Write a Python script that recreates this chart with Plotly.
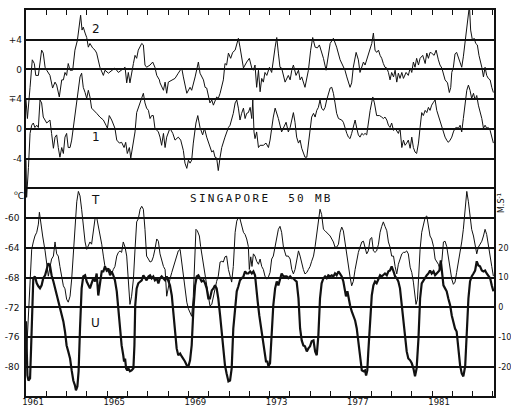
import plotly.graph_objects as go

# ---------------- data ----------------
# Series "2" (upper trace, upper panel)
s2_year = [1961.00,1961.07,1961.20,1961.31,1961.41,1961.48,1961.61,1961.69,1961.77,1961.85,1961.94,1962.02,1962.18,1962.31,1962.43,1962.51,1962.64,1962.76,1962.84,1962.92,1963.00,1963.08,1963.17,1963.30,1963.41,1963.53,1963.63,1963.69,1963.76,1963.82,1963.91,1963.99,1964.07,1964.15,1964.28,1964.40,1964.48,1964.56,1964.64,1964.81,1964.89,1965.06,1965.22,1965.38,1965.55,1965.71,1965.88,1965.96,1966.04,1966.12,1966.20,1966.29,1966.37,1966.45,1966.53,1966.70,1966.78,1966.86,1966.94,1967.11,1967.24,1967.35,1967.44,1967.57,
           1967.60,1967.77,1967.85,1967.93,1968.01,1968.18,1968.34,1968.50,1968.67,1968.75,1968.92,1969.08,1969.16,1969.33,1969.49,1969.57,1969.74,1969.82,1969.90,1970.06,1970.15,1970.23,1970.39,1970.47,1970.56,1970.72,1970.80,1970.88,1970.97,1971.08,1971.18,1971.30,1971.46,1971.54,1971.71,1971.87,1972.00,1972.12,1972.20,1972.28,1972.36,1972.45,1972.53,1972.61,1972.69,1972.77,1972.86,1972.99,1973.10,1973.27,1973.35,1973.43,1973.51,1973.59,1973.76,1973.92,1974.01,1974.09,1974.17,1974.30,1974.42,1974.50,1974.58,1974.74,1974.91,1975.02,1975.12,1975.24,1975.35,1975.45,1975.65,1975.78,1975.89,
           1975.98,1976.14,1976.30,1976.47,1976.63,1976.71,1976.80,1976.96,1977.04,1977.12,1977.26,1977.37,1977.45,1977.54,1977.62,1977.70,1977.86,1978.03,1978.11,1978.19,1978.27,1978.36,1978.44,1978.52,1978.60,1978.68,1978.77,1978.85,1978.93,1979.01,1979.10,1979.18,1979.26,1979.34,1979.42,1979.51,1979.59,1979.72,1979.83,1979.92,1980.00,1980.08,1980.16,1980.24,1980.33,1980.41,1980.54,1980.66,1980.74,1980.82,1980.90,1980.98,1981.10,1981.20,1981.31,1981.39,1981.48,1981.56,1981.64,1981.76,1981.85,1981.92,1981.97,1982.05,1982.13,1982.21,1982.30,1982.38,1982.46,1982.54,1982.63,1982.71,1982.79,1982.84,1982.90,1982.99,1983.07,1983.15,1983.23,1983.31,1983.45,1983.53,1983.61,1983.69,1983.77,1983.86,1983.94,1984.02]
s2_val = [-4.1,-6.6,-2.4,1.3,0.8,-0.8,-0.8,0.8,2.6,2.2,0.3,-0.1,-0.8,-2.5,-1.7,-2.1,-3.7,-1.4,-1.4,-0.4,-0.8,0.8,-0.1,-0.1,2.6,3.9,5.7,7.3,5.3,5.7,4.9,4.3,3.0,3.5,2.9,2.6,2.2,1.0,0.3,-0.8,-0.1,-0.5,-0.1,0.2,-0.4,-0.1,0.3,-1.8,-0.4,-1.8,-0.4,0.8,1.9,1.5,2.6,3.5,3.3,0.6,0.3,0.6,1.0,0.3,-0.8,-1.4,
          -1.8,-2.8,-1.7,-3.2,-1.7,-1.4,-1.2,-0.5,0.2,-1.0,-3.2,-2.4,-2.8,-1.0,1.0,-0.5,-1.4,-2.4,-2.5,-4.5,-4.1,-4.8,-3.7,-3.9,-3.2,-1.4,0.8,0.6,2.2,1.5,2.3,2.6,4.2,3.0,0.2,1.0,1.5,0.2,-0.1,0.6,-2.4,-0.1,-3.0,-1.2,-1.7,-0.4,-0.8,0.3,-0.4,3.0,4.3,2.2,0.3,0.2,-1.7,-0.8,-1.4,-0.1,0.6,-0.8,-0.1,-1.4,-1.0,-2.4,-0.1,2.6,4.3,3.0,2.9,3.3,1.5,-0.1,2.2,
          3.5,4.2,3.0,1.3,0.2,-0.1,-1.0,-2.4,-1.8,0.3,2.3,1.3,-0.4,0.3,1.0,0.6,1.9,3.5,4.9,2.6,2.3,2.6,1.9,1.5,0.8,0.3,0.2,-0.4,-1.4,-0.4,-1.0,-0.1,-1.7,-0.5,-1.2,-0.4,-1.2,-0.4,-0.8,0.2,-0.4,1.0,0.3,1.5,0.6,1.5,1.9,0.8,2.2,1.5,2.3,2.2,1.9,2.6,1.3,0.6,0.2,-0.8,-1.4,-1.8,-3.1,-2.4,-0.4,0.3,2.1,2.3,1.5,1.0,0.3,1.7,3.7,5.7,7.6,8.6,5.3,3.9,4.2,3.5,3.3,1.9,0.3,-1.0,0.3,-0.8,-1.2,-1.4,-2.4,-3.1]

# Series "1" (lower trace, upper panel)
s1_year = [1961.00,1961.03,1961.12,1961.20,1961.28,1961.36,1961.44,1961.53,1961.61,1961.69,1961.77,1961.85,1962.02,1962.18,1962.26,1962.35,1962.43,1962.51,1962.59,1962.67,1962.76,1962.84,1962.92,1963.00,1963.08,1963.17,1963.25,1963.33,1963.46,1963.58,1963.66,1963.74,1963.82,1963.91,1963.99,1964.07,1964.15,1964.23,1964.32,1964.48,1964.64,1964.81,1964.94,1965.01,1965.10,1965.22,1965.38,1965.47,1965.60,1965.71,1965.83,1965.91,1965.99,1966.09,1966.16,1966.25,1966.37,1966.45,1966.58,1966.70,1966.78,1966.86,1966.94,1967.03,1967.11,1967.19,1967.27,1967.35,1967.52,
           1967.60,1967.68,1967.77,1967.85,1967.93,1968.01,1968.09,1968.23,1968.34,1968.50,1968.62,1968.75,1968.83,1968.92,1969.00,1969.08,1969.16,1969.24,1969.37,1969.46,1969.57,1969.70,1969.79,1969.90,1970.06,1970.15,1970.23,1970.31,1970.39,1970.47,1970.56,1970.64,1970.80,1970.88,1970.97,1971.05,1971.13,1971.21,1971.30,1971.38,1971.46,1971.54,1971.62,1971.71,1971.79,1971.87,1971.95,1972.04,1972.12,1972.17,1972.23,1972.28,1972.36,1972.45,1972.53,1972.69,1972.82,1972.94,1973.02,1973.10,1973.18,1973.27,1973.35,1973.43,1973.59,1973.68,1973.81,1973.92,1974.01,1974.09,1974.17,1974.25,1974.33,1974.42,1974.50,1974.58,1974.66,1974.74,1974.83,1974.91,1974.99,1975.07,1975.16,1975.24,1975.32,1975.40,1975.48,1975.56,1975.65,1975.73,1975.81,1975.89,
           1975.98,1976.06,1976.14,1976.22,1976.30,1976.39,1976.55,1976.63,1976.71,1976.80,1976.88,1976.96,1977.04,1977.12,1977.21,1977.29,1977.37,1977.45,1977.54,1977.62,1977.70,1977.78,1977.86,1977.95,1978.08,1978.16,1978.27,1978.41,1978.52,1978.60,1978.68,1978.77,1978.85,1978.93,1979.01,1979.10,1979.18,1979.26,1979.34,1979.42,1979.51,1979.59,1979.67,1979.75,1979.83,1979.92,1980.00,1980.08,1980.16,1980.24,1980.33,1980.41,1980.49,1980.57,1980.66,1980.74,1980.82,1980.90,1980.98,1981.07,1981.15,1981.23,1981.31,1981.39,1981.48,1981.56,1981.64,1981.72,1981.80,1981.89,1981.97,1982.05,1982.13,1982.21,1982.30,1982.38,1982.46,1982.54,1982.63,1982.71,1982.79,1982.87,1982.95,1983.04,1983.12,1983.20,1983.28,1983.36,1983.45,1983.53,1983.61,1983.69,1983.77,1983.86,1983.94,1984.02]
s1_val = [-4.2,-9.2,-5.2,-0.6,0.5,0.8,0.2,0.5,0.2,3.9,3.5,1.6,0.8,1.2,-0.6,-2.6,-1.1,-0.8,-2.5,-3.8,-2.5,-3.3,-1.1,-0.6,-2.5,-2.5,-1.5,0.2,2.5,5.2,7.0,7.5,5.6,4.9,4.1,5.2,4.3,2.8,2.5,2.1,1.6,1.2,0.5,0.1,1.8,1.2,0.1,-1.5,-1.9,-1.8,-2.5,-1.8,-3.3,-2.5,-3.9,-2.5,-0.4,2.2,3.2,4.3,4.8,3.5,2.8,2.5,1.4,1.8,1.8,0.1,-0.4,
          -1.1,-2.2,-0.6,-2.5,-1.1,-0.4,0.1,-0.6,-1.5,-1.1,-1.5,-2.9,-4.6,-5.3,-4.2,-4.6,-4.2,-1.9,0.8,1.8,0.2,-0.8,0.1,-1.1,-2.5,-3.1,-2.9,-3.8,-3.9,-5.6,-3.8,-2.5,-1.1,-0.4,0.2,0.5,1.2,2.1,3.5,3.9,2.8,1.2,2.1,2.8,1.4,2.1,2.2,2.9,1.4,3.9,-0.4,-1.3,-0.4,-2.5,-2.2,-2.2,-1.9,-2.5,-1.5,0.2,1.6,2.8,2.1,1.4,-0.4,0.2,0.9,-0.4,0.2,1.2,2.2,0.9,-1.1,-1.9,-1.5,-2.6,-3.1,-3.8,-3.8,-1.9,0.1,1.6,2.1,1.6,2.5,2.9,3.9,2.8,2.5,2.9,3.9,4.8,
          5.5,5.6,4.8,3.5,2.1,1.4,1.2,0.9,0.1,-0.6,-1.1,-1.3,-0.6,0.1,1.2,0.1,-0.8,-1.1,-0.6,-0.8,-0.6,-0.8,0.8,2.5,4.3,3.5,1.8,1.8,1.6,1.4,1.6,1.2,0.5,0.2,0.8,-0.2,0.1,-0.2,-0.6,0.1,-2.5,-1.5,-2.2,-1.9,-1.5,-2.6,-1.1,-2.5,-3.1,-3.3,-1.9,0.2,2.2,1.8,2.5,2.2,2.9,2.5,3.2,3.6,3.9,2.5,1.8,0.8,0.1,-0.6,-1.1,-1.5,-1.8,-1.5,-1.1,-0.4,0.1,0.2,0.1,0.5,-0.4,1.4,3.5,5.2,5.9,5.2,4.1,4.8,3.9,4.5,3.2,2.5,1.4,0.1,0.5,0.1,0.2,-0.2,-1.1,-1.9]

# Temperature T (deg C, thin line, lower panel, left axis)
t_year = [1961.03,1961.20,1961.28,1961.36,1961.44,1961.53,1961.61,1961.66,1961.72,1961.82,1961.94,1962.02,1962.10,1962.18,1962.26,1962.35,1962.43,1962.51,1962.59,1962.67,1962.76,1962.84,1962.92,1963.00,1963.08,1963.17,1963.25,1963.33,1963.41,1963.50,1963.58,1963.66,1963.74,1963.82,1963.91,1963.99,1964.07,1964.15,1964.23,1964.32,1964.40,1964.48,1964.56,1964.64,1964.73,1964.81,1964.89,1964.97,1965.06,1965.14,1965.22,1965.30,1965.38,1965.47,1965.55,1965.63,1965.71,1965.79,1965.88,1965.96,1966.04,1966.12,1966.20,1966.29,1966.37,1966.45,1966.53,1966.62,1966.70,1966.78,1966.86,1966.94,1967.03,1967.11,1967.19,1967.27,1967.35,1967.44,1967.52,
          1967.60,1967.77,1967.85,1967.93,1968.01,1968.09,1968.18,1968.34,1968.50,1968.59,1968.67,1968.75,1968.83,1968.92,1969.00,1969.16,1969.24,1969.29,1969.37,1969.44,1969.54,1969.60,1969.70,1969.77,1969.87,1969.98,1970.06,1970.15,1970.23,1970.31,1970.39,1970.47,1970.56,1970.64,1970.72,1970.80,1970.88,1970.97,1971.05,1971.13,1971.21,1971.30,1971.38,1971.46,1971.54,1971.62,1971.71,1971.79,1971.87,1971.95,1972.00,1972.07,1972.13,1972.20,1972.28,1972.36,1972.45,1972.53,1972.61,1972.69,1972.77,1972.86,1972.94,1973.02,1973.10,1973.18,1973.27,1973.35,1973.43,1973.51,1973.59,1973.68,1973.81,1973.92,1974.01,1974.09,1974.17,1974.25,1974.33,1974.42,1974.50,1974.58,1974.66,1974.74,1974.83,1974.91,1974.99,1975.07,1975.16,1975.24,1975.32,1975.40,1975.48,1975.56,1975.65,1975.73,1975.81,1975.89,
          1975.98,1976.14,1976.22,1976.30,1976.39,1976.47,1976.55,1976.63,1976.71,1976.80,1976.88,1976.96,1977.04,1977.12,1977.21,1977.29,1977.37,1977.45,1977.54,1977.62,1977.70,1977.78,1977.86,1977.95,1978.03,1978.11,1978.19,1978.27,1978.36,1978.44,1978.52,1978.60,1978.68,1978.77,1978.85,1978.93,1979.01,1979.10,1979.18,1979.26,1979.34,1979.42,1979.51,1979.59,1979.67,1979.75,1979.83,1979.92,1980.00,1980.08,1980.16,1980.21,1980.28,1980.33,1980.41,1980.49,1980.57,1980.66,1980.74,1980.82,1980.90,1980.98,1981.07,1981.15,1981.23,1981.31,1981.39,1981.48,1981.56,1981.64,1981.72,1981.80,1981.89,1981.97,1982.05,1982.13,1982.21,1982.30,1982.38,1982.46,1982.54,1982.63,1982.71,1982.79,1982.87,1982.95,1983.04,1983.12,1983.20,1983.28,1983.36,1983.45,1983.53,1983.61,1983.69,1983.77,1983.86,1983.94,1984.02]
t_val = [-78.0,-69.5,-64.2,-63.2,-62.4,-61.9,-60.8,-59.2,-60.5,-62.4,-64.4,-66.5,-67.8,-66.6,-65.5,-65.1,-63.2,-64.8,-65.1,-66.5,-67.8,-69.1,-69.5,-70.9,-71.3,-70.5,-68.2,-65.1,-61.1,-57.8,-56.4,-57.0,-58.8,-61.1,-63.2,-64.2,-63.8,-63.2,-63.5,-61.5,-60.1,-59.9,-61.1,-61.9,-63.5,-65.1,-66.5,-66.9,-67.3,-66.9,-67.5,-66.9,-66.5,-65.1,-64.6,-64.4,-64.6,-63.2,-63.9,-65.1,-68.6,-71.6,-70.5,-68.2,-64.2,-60.5,-60.1,-58.8,-58.4,-58.8,-61.5,-65.1,-65.5,-65.9,-65.8,-65.2,-64.2,-62.8,-63.1,
         -64.8,-66.5,-66.9,-70.5,-69.1,-68.2,-67.3,-65.9,-64.4,-64.2,-65.9,-68.2,-70.0,-71.3,-72.2,-73.2,-70.5,-66.9,-61.5,-61.7,-62.4,-63.8,-65.5,-67.3,-68.6,-70.5,-71.8,-71.6,-70.5,-69.1,-68.5,-67.8,-65.9,-65.8,-65.9,-65.2,-65.1,-66.9,-67.8,-68.6,-66.5,-61.9,-60.4,-59.9,-60.1,-61.1,-61.9,-62.2,-62.8,-63.8,-66.9,-65.2,-66.5,-64.8,-65.1,-65.8,-66.2,-65.5,-66.5,-66.9,-67.8,-68.2,-67.9,-67.3,-65.5,-65.1,-63.9,-62.8,-61.5,-61.1,-61.9,-63.9,-65.1,-65.1,-65.5,-66.9,-67.5,-66.9,-65.8,-64.4,-65.1,-66.2,-66.9,-67.5,-67.3,-66.9,-66.5,-65.8,-65.1,-63.8,-61.9,-60.1,-58.8,-59.5,-61.5,-61.7,-61.9,-62.2,
         -62.4,-63.2,-63.9,-63.9,-63.5,-61.9,-61.2,-61.7,-63.2,-65.5,-66.9,-67.9,-69.1,-68.5,-66.9,-65.5,-64.6,-63.9,-63.2,-63.1,-63.8,-64.8,-64.4,-62.8,-62.6,-64.4,-64.6,-64.4,-63.5,-61.9,-61.1,-60.5,-61.1,-61.7,-63.2,-63.9,-65.1,-65.1,-66.5,-67.5,-66.2,-65.5,-64.8,-64.6,-64.6,-64.4,-64.8,-66.6,-67.3,-68.6,-70.9,-71.6,-70.9,-68.2,-64.2,-61.9,-61.1,-59.9,-59.7,-61.1,-62.4,-62.8,-63.8,-65.5,-65.9,-66.2,-66.9,-65.8,-63.2,-63.1,-63.8,-65.2,-66.9,-68.2,-68.9,-68.6,-67.3,-65.9,-64.6,-63.2,-61.5,-58.8,-56.4,-57.8,-59.7,-61.5,-62.4,-63.8,-64.8,-63.9,-63.5,-63.1,-62.4,-61.5,-62.2,-63.8,-65.1,-66.5,-67.8]

# Zonal wind U (m/s, thick line, lower panel, right axis)
u_year = [1961.00,1961.07,1961.12,1961.20,1961.25,1961.30,1961.36,1961.44,1961.53,1961.61,1961.69,1961.77,1961.85,1961.94,1962.02,1962.10,1962.18,1962.26,1962.35,1962.43,1962.51,1962.59,1962.67,1962.76,1962.84,1962.92,1963.00,1963.08,1963.17,1963.25,1963.33,1963.41,1963.46,1963.53,1963.59,1963.66,1963.74,1963.82,1963.91,1963.99,1964.07,1964.15,1964.23,1964.32,1964.40,1964.48,1964.56,1964.64,1964.73,1964.81,1964.89,1964.97,1965.06,1965.14,1965.22,1965.30,1965.38,1965.47,1965.55,1965.63,1965.71,1965.79,1965.83,1965.88,1965.93,1965.99,1966.04,1966.12,1966.20,1966.29,1966.34,1966.38,1966.45,1966.53,1966.62,1966.70,1966.78,1966.86,1966.94,1967.03,1967.11,1967.19,1967.27,1967.35,1967.44,1967.52,
          1967.60,1967.68,1967.77,1967.85,1967.93,1968.01,1968.09,1968.18,1968.26,1968.34,1968.42,1968.50,1968.59,1968.67,1968.75,1968.83,1968.92,1969.00,1969.08,1969.16,1969.24,1969.33,1969.41,1969.49,1969.57,1969.65,1969.74,1969.82,1969.90,1969.98,1970.06,1970.15,1970.23,1970.31,1970.39,1970.47,1970.56,1970.64,1970.72,1970.80,1970.88,1970.97,1971.05,1971.13,1971.21,1971.30,1971.38,1971.46,1971.54,1971.62,1971.71,1971.79,1971.87,1971.95,1972.04,1972.12,1972.20,1972.28,1972.33,1972.41,1972.49,1972.58,1972.66,1972.74,1972.82,1972.89,1972.94,1973.02,1973.10,1973.18,1973.27,1973.35,1973.43,1973.51,1973.59,1973.68,1973.76,1973.84,1973.92,1974.01,1974.09,1974.17,1974.25,1974.33,1974.42,1974.50,1974.58,1974.66,1974.74,1974.83,1974.91,1974.99,1975.07,1975.16,1975.24,1975.32,1975.40,1975.48,1975.56,1975.65,1975.73,1975.81,1975.89,
          1975.98,1976.06,1976.14,1976.22,1976.30,1976.39,1976.47,1976.55,1976.63,1976.71,1976.76,1976.83,1976.89,1976.96,1977.04,1977.12,1977.21,1977.29,1977.37,1977.45,1977.54,1977.62,1977.70,1977.75,1977.81,1977.86,1977.95,1978.03,1978.11,1978.19,1978.27,1978.36,1978.44,1978.52,1978.60,1978.68,1978.77,1978.85,1978.93,1979.01,1979.10,1979.18,1979.26,1979.34,1979.42,1979.51,1979.59,1979.67,1979.75,1979.83,1979.92,1980.00,1980.08,1980.16,1980.24,1980.33,1980.41,1980.49,1980.57,1980.66,1980.74,1980.82,1980.90,1980.98,1981.07,1981.15,1981.23,1981.31,1981.36,1981.43,1981.49,1981.56,1981.64,1981.72,1981.80,1981.89,1981.97,1982.05,1982.13,1982.21,1982.30,1982.38,1982.46,1982.54,1982.63,1982.71,1982.79,1982.87,1982.95,1983.04,1983.12,1983.20,1983.28,1983.36,1983.45,1983.53,1983.61,1983.69,1983.77,1983.86,1983.94,1984.02]
u_val = [-4.7,-22.9,-24.6,-23.9,-13.8,0.7,9.8,10.4,8.1,7.1,6.4,7.4,9.8,10.8,13.1,14.8,14.1,10.8,8.7,6.4,4.0,2.0,-0.3,-2.7,-4.7,-8.1,-12.8,-14.8,-17.2,-21.2,-24.6,-26.2,-27.9,-26.6,-21.5,-7.1,6.4,10.4,10.8,8.7,7.4,6.4,8.1,9.8,8.7,11.4,4.0,8.7,12.1,12.1,13.8,12.4,13.1,10.8,12.1,10.8,9.1,5.4,-1.3,-7.1,-12.8,-16.1,-18.2,-17.2,-20.5,-21.2,-20.5,-21.5,-21.2,-20.5,-12.8,0.7,6.4,8.1,8.7,9.1,10.8,9.8,9.1,10.4,10.8,9.8,10.4,9.1,9.8,8.1,
         9.8,10.4,9.8,9.1,10.4,9.1,7.4,4.0,-1.3,-7.1,-13.8,-16.1,-15.5,-16.5,-17.2,-18.2,-19.5,-19.8,-17.8,-12.8,-1.3,7.4,10.4,10.8,9.8,8.7,9.1,8.1,6.4,3.0,3.0,5.7,6.4,7.4,6.4,3.0,-2.7,-8.1,-14.8,-19.5,-22.2,-24.9,-24.6,-20.5,-7.1,0.7,5.4,7.1,9.1,9.8,10.4,12.1,11.4,11.4,12.1,11.4,12.1,10.8,6.4,2.0,-2.7,-7.1,-11.4,-14.8,-18.2,-18.2,-19.8,-18.8,-9.4,0.7,6.4,8.7,7.4,9.1,11.4,10.4,10.4,10.4,9.8,10.4,9.8,9.8,9.1,8.7,3.0,-7.1,-11.1,-12.8,-13.1,-14.8,-13.8,-13.1,-11.4,-11.1,-14.8,-16.1,-9.4,3.0,8.1,9.8,10.4,9.8,10.8,
         10.4,10.8,10.4,11.4,10.8,12.1,11.4,10.4,8.7,5.4,3.7,5.4,3.0,0.7,-1.3,-3.0,-4.4,-7.1,-11.4,-17.2,-21.2,-21.5,-21.2,-22.9,-21.2,-14.8,-4.7,4.0,7.4,8.7,8.1,9.8,10.8,10.4,10.8,11.4,10.8,12.1,12.4,13.8,12.1,10.4,9.8,8.7,6.4,0.7,-4.7,-9.4,-14.8,-17.2,-17.8,-18.8,-20.5,-23.2,-20.5,-10.4,3.0,8.1,9.1,9.8,10.8,11.4,12.4,11.4,12.1,10.8,11.4,12.1,12.4,15.8,10.8,7.4,6.4,5.4,3.0,0.7,-2.7,-4.7,-7.1,-8.1,-13.8,-19.5,-22.2,-23.2,-19.8,-7.1,3.0,8.7,10.4,11.4,12.4,15.5,14.1,13.8,12.4,12.1,12.4,11.4,10.8,9.8,7.4,5.4]

# axis tick labels
year_ticks = list(range(1961, 1985))
year_labels = {1961: "1961", 1965: "1965", 1969: "1969", 1973: "1973", 1977: "1977", 1981: "1981"}
t_ticks = [-80, -76, -72, -68, -64, -60, -56]
t_labels = ["-80", "-76", "-72", "-68", "-64", "-60", ""]
s1_ticks = [-4, 0, 4]
s1_labels = ["-4", "0", "\u22134"]
s2_ticks = [0, 4]
s2_labels = ["0", "+4"]
u_ticks = [-20, -10, 0, 10, 20]
u_labels = ["-20", "-10", "0", "10", "20"]

# ---------------- figure ----------------
INK = "#111111"
FONT = dict(family="DejaVu Sans", size=9, color=INK)

fig = go.Figure()
fig.add_trace(go.Scatter(x=s2_year, y=s2_val, yaxis="y3", mode="lines",
                         line=dict(color=INK, width=1), name="2", showlegend=False))
fig.add_trace(go.Scatter(x=s1_year, y=s1_val, yaxis="y2", mode="lines",
                         line=dict(color=INK, width=1), name="1", showlegend=False))
fig.add_trace(go.Scatter(x=t_year, y=t_val, yaxis="y", mode="lines",
                         line=dict(color=INK, width=1), name="T", showlegend=False))
fig.add_trace(go.Scatter(x=u_year, y=u_val, yaxis="y4", mode="lines",
                         line=dict(color=INK, width=2.2), name="U", showlegend=False))

grid = dict(showgrid=True, gridcolor=INK, gridwidth=1.5, zeroline=False, ticks="",
            tickfont=FONT, automargin=False, ticklabelstandoff=3)

fig.update_layout(
    width=511, height=406,
    margin=dict(l=26, r=17, t=10, b=10, autoexpand=False),
    paper_bgcolor="white", plot_bgcolor="white",
    showlegend=False,
    font=FONT,
    xaxis=dict(range=[1961.0, 1984.05], tickvals=year_ticks,
               ticktext=[year_labels.get(y, "") for y in year_ticks],
               ticks="inside", ticklen=5, tickwidth=1.2, tickcolor=INK,
               showline=True, linecolor=INK, linewidth=1.5, mirror="ticks",
               showgrid=False, zeroline=False, automargin=False,
               tickfont=dict(family="DejaVu Sans", size=8.5, color=INK),
               ticklabelshift=7, ticklabelstandoff=-3),
    yaxis=dict(range=[-83.92, -32], tickvals=t_ticks, ticktext=t_labels,
               showline=True, linecolor=INK, linewidth=1.5, **grid),
    yaxis2=dict(range=[-35.92, 16], tickvals=s1_ticks, ticktext=s1_labels,
                overlaying="y", side="left", showline=False, **grid),
    yaxis3=dict(range=[-43.92, 8], tickvals=s2_ticks, ticktext=s2_labels,
                overlaying="y", side="left", showline=False, **grid),
    yaxis4=dict(range=[-29.8, 100], tickvals=u_ticks, ticktext=u_labels,
                overlaying="y", side="right", showgrid=False, zeroline=False, ticks="",
                showline=True, linecolor=INK, linewidth=1.5,
                tickfont=dict(family="DejaVu Sans", size=8, color=INK),
                automargin=False, ticklabelstandoff=1),
)

big = dict(family="DejaVu Sans", size=12, color=INK)
fig.add_annotation(x=1964.45, y=5.4, xref="x", yref="y3", text="2", showarrow=False, font=big)
fig.add_annotation(x=1964.45, y=-1.05, xref="x", yref="y2", text="1", showarrow=False, font=big)
fig.add_annotation(x=1964.4, y=-57.5, xref="x", yref="y", text="T", showarrow=False, font=big)
fig.add_annotation(x=1964.4, y=-5.2, xref="x", yref="y4", text="U", showarrow=False, font=big)
fig.add_annotation(x=1972.58, y=-57.4, xref="x", yref="y",
                   text='<span style="letter-spacing:2.3px">SINGAPORE  50 MB</span>',
                   showarrow=False, font=dict(family="DejaVu Sans Mono", size=11, color=INK))
fig.add_annotation(x=-0.03, y=0.522, xref="paper", yref="paper", text="<sup>o</sup>C",
                   showarrow=False, font=dict(family="DejaVu Sans", size=9, color=INK))
fig.add_annotation(x=1.03, y=0.5, xref="paper", yref="paper", text="M.S<sup>-1</sup>",
                   textangle=-90, showarrow=False, font=dict(family="DejaVu Sans", size=8, color=INK))

fig.write_html("out.html", config={"displayModeBar": False},
               post_script="document.body.style.margin='0';document.body.style.overflow='hidden';")
